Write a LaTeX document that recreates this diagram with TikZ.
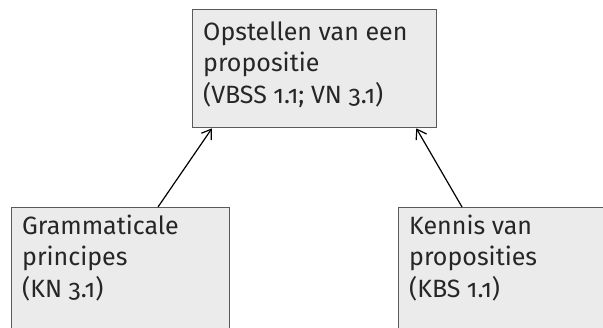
\documentclass[tikz,border=0pt]{standalone}
\usepackage{fontspec}
\setmainfont{Fira Sans}[Numbers=OldStyle]
\usetikzlibrary{arrows.meta}
\definecolor{boxfill}{HTML}{EBEBEB}
\definecolor{boxline}{HTML}{5A5A5A}
\begin{document}
\begin{tikzpicture}[x=1pt,y=-1pt,
  box/.style={draw=boxline, fill=boxfill, line width=1.3pt, inner sep=0pt, anchor=north west},
  boxtext/.style={inner sep=0pt, anchor=north west, align=left, text=black!85,
    font=\fontsize{25}{31.5}\selectfont},
  link/.style={draw=black, line width=1.2pt, -{Straight Barb[length=9pt,width=12pt]}}]
\useasboundingbox (0,0) rectangle (603,327);
\clip (0,0) rectangle (603,327);
% boxes (the lower two run past the page edge)
\node[box, minimum width=244pt, minimum height=118pt] (goal) at (192,9) {};
\node[box, minimum width=218pt, minimum height=150pt] (gram) at (11,207) {};
\node[box, minimum width=240pt, minimum height=150pt] (kennis) at (398,207) {};
% texts
\node[boxtext] (goaltext) at (203,21.5) {Opstellen van een\\propositie\\(VBSS 1.1; VN 3.1)};
\node[boxtext] (gramtext) at (22,214.5) {Grammaticale\\principes\\(KN 3.1)};
\node[boxtext] (kennistext) at (409,214.5) {Kennis van\\proposities\\(KBS 1.1)};
% connectors
\draw[link] ([xshift=147pt]gram.north west) -- ([xshift=20pt]goal.south west);
\draw[link] ([xshift=64pt]kennis.north west) -- ([xshift=-21pt]goal.south east);
\end{tikzpicture}
\end{document}
